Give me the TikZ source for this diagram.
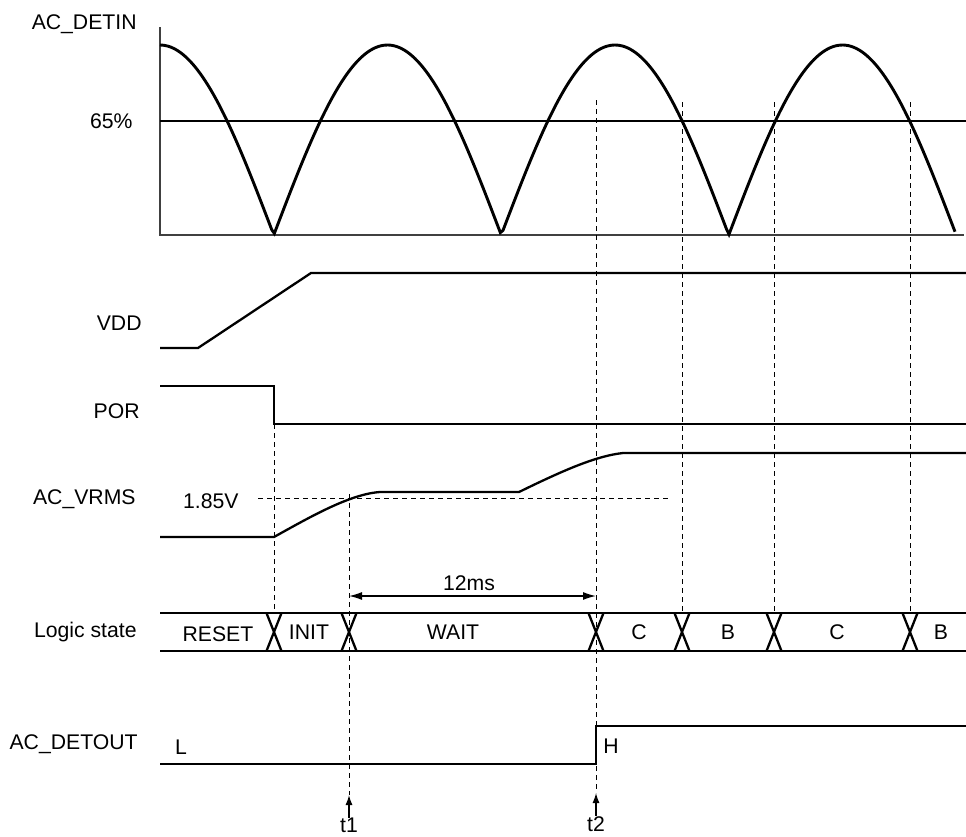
\documentclass[tikz,border=0pt]{standalone}
\usepackage{fontspec}
\setmainfont{Liberation Sans}
\usetikzlibrary{arrows.meta}

\tikzset{
  sig/.style={line width=1.15pt},
  wave/.style={line width=1.45pt},
  thinsig/.style={line width=0.65pt},
  axisline/.style={line width=0.7pt, black!75},
  guide/.style={line width=0.5pt, dash pattern=on 2.5pt off 2pt},
  lbl/.style={anchor=east, inner sep=0pt},
  txt/.style={inner sep=0pt},
  every node/.style={font=\fontsize{10.6}{12}\selectfont}
}

\begin{document}
\begin{tikzpicture}[x=0.5pt,y=-0.5pt]
\useasboundingbox (0,0) rectangle (966,837);
%AC_DETIN%
\node[lbl] (detin) at (137,24) {AC\_DETIN};
\node[lbl] (pct) at (133,121) {65\%};
\draw[axisline] (160,27) -- (160,235) -- (964,235);
\draw[thinsig] (160,121) -- (966,121);
\draw[wave] plot[domain=160:955, samples=300] (\x, {235-190*abs(cos((\x-160)*0.79121))});
%guide lines%
\draw[guide] (596,100) -- (596,793);
\foreach \gx in {682,774,910}
  \draw[guide] (\gx,102) -- (\gx,613);
\draw[guide] (274,424) -- (274,613);
\draw[guide] (349,494) -- (349,795);
\draw[guide] (258,498) -- (669,498);
%VDD%
\node[lbl] (vdd) at (142,323) {VDD};
\draw[sig] (160,348) -- (198,348) -- (311,273) -- (966,273);
%POR%
\node[lbl] (por) at (140,411) {POR};
\draw[sig] (160,386) -- (274,386) -- (274,424) -- (966,424);
%AC_VRMS%
\node[lbl] (vrms) at (136,499) {AC\_VRMS};
\node[lbl] (lvl) at (239,501) {1.85V};
\draw[sig] (160,537) -- (274,537) .. controls (310,517) and (350,494) .. (380,492)
  -- (519,492) .. controls (560,472) and (595,456) .. (623,453) -- (966,453);
%12ms%
\node[txt] (dur) at (469,583) {12ms};
\draw[thinsig, {Latex[length=6.5pt,width=4pt]}-{Latex[length=6.5pt,width=4pt]}] (349,596) -- (596,596);
%Logic state%
\node[lbl] (logic) at (137,632) {Logic state};
\draw[sig] (160,613) -- (966,613);
\draw[sig] (160,651) -- (966,651);
\foreach \tx in {274,349,596,682,774,910}
  \draw[sig] ({\tx-7.5},613) -- ({\tx+7.5},651) ({\tx-7.5},651) -- ({\tx+7.5},613);
\node[txt] (reset) at (218,634) {RESET};
\node[txt] (init) at (309,632) {INIT};
\node[txt] (wait) at (453,632) {WAIT};
\node[txt] (c1) at (639,632) {C};
\node[txt] (b1) at (728,632) {B};
\node[txt] (c2) at (837,632) {C};
\node[txt] (b2) at (941,632) {B};
%AC_DETOUT%
\node[lbl] (detout) at (138,744) {AC\_DETOUT};
\node[txt] (lo) at (181,747) {L};
\node[txt] (hi) at (611,746) {H};
\draw[thinsig] (160,764) -- (596,764) -- (596,726) -- (966,726);
%t1, t2%
\node[txt, anchor=north] (t1) at (349,818) {t1};
\node[txt, anchor=north] (t2) at (596,816) {t2};
\draw[thinsig, -{Latex[length=5pt,width=3.5pt]}] (t1.north) -- (349,795);
\draw[thinsig, -{Latex[length=5pt,width=3.5pt]}] (t2.north) -- (596,793);
\end{tikzpicture}
\end{document}
